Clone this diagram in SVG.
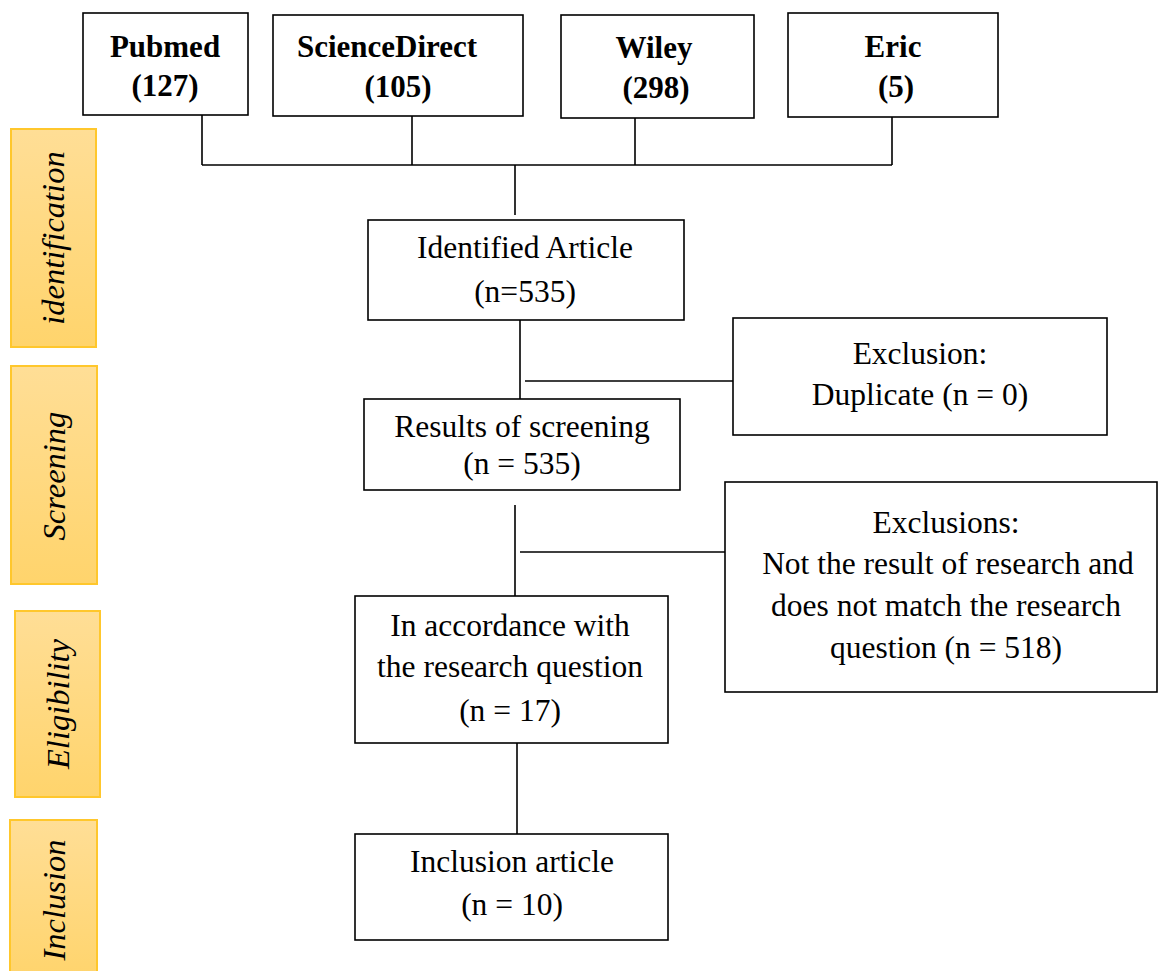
<svg xmlns="http://www.w3.org/2000/svg" width="1159" height="971" viewBox="0 0 1159 971">
<defs>
<linearGradient id="side" x1="0" y1="0" x2="0" y2="1">
<stop offset="0" stop-color="#FFDE96"/>
<stop offset="1" stop-color="#FFD46C"/>
</linearGradient>
<style>
.box{fill:#fff;stroke:#000;stroke-width:1.6}
.side{fill:url(#side);stroke:#FFC72C;stroke-width:2}
.t{font-family:"Liberation Serif","Times New Roman",serif;font-size:31.5px;fill:#000;text-anchor:middle}
.b{font-family:"Liberation Serif","Times New Roman",serif;font-size:31px;font-weight:bold;fill:#000;text-anchor:middle}
.s{font-family:"Liberation Serif","Times New Roman",serif;font-size:32.5px;font-style:italic;fill:#000;text-anchor:middle}
.c{fill:none;stroke:#000;stroke-width:1.6}
</style>
</defs>
<rect width="1159" height="971" fill="#fff"/>
<g id="side-identification"><rect class="side" x="11" y="129" width="85" height="218"/><text class="s" transform="translate(64,238) rotate(-90)">identification</text></g>
<g id="side-screening"><rect class="side" x="11" y="366" width="86" height="218"/><text class="s" transform="translate(65,476) rotate(-90)">Screening</text></g>
<g id="side-eligibility"><rect class="side" x="15" y="611" width="85" height="186"/><text class="s" transform="translate(69,704) rotate(-90)">Eligibility</text></g>
<g id="side-inclusion"><rect class="side" x="10" y="820" width="87" height="160"/><text class="s" transform="translate(65,900) rotate(-90)">Inclusion</text></g>
<g id="connectors">
<path class="c" d="M202 115V165M412 116V165M635 118V165M892 117V165M202 165H892M515 165V215"/>
<path class="c" d="M520 320V418M525 381H733"/>
<path class="c" d="M515 505V597M520 552H725"/>
<path class="c" d="M517 743V836"/>
</g>
<g id="pubmed"><rect class="box" x="83" y="13" width="165" height="102"/><text class="b" x="165" y="57">Pubmed</text><text class="b" x="165" y="96">(127)</text></g>
<g id="sciencedirect"><rect class="box" x="273" y="15" width="250" height="101"/><text class="b" x="387" y="57">ScienceDirect</text><text class="b" x="398" y="97">(105)</text></g>
<g id="wiley"><rect class="box" x="561" y="15" width="193" height="103"/><text class="b" x="654" y="58">Wiley</text><text class="b" x="656" y="98">(298)</text></g>
<g id="eric"><rect class="box" x="788" y="13" width="210" height="104"/><text class="b" x="893" y="57">Eric</text><text class="b" x="896" y="97">(5)</text></g>
<g id="identified"><rect class="box" x="368" y="220" width="316" height="100"/><text class="t" x="525" y="258">Identified Article</text><text class="t" x="525" y="302">(n=535)</text></g>
<g id="exclusion-duplicate"><rect class="box" x="733" y="318" width="374" height="117"/><text class="t" x="920" y="364">Exclusion:</text><text class="t" x="920" y="405">Duplicate (n = 0)</text></g>
<g id="screening"><rect class="box" x="364" y="399" width="316" height="91"/><text class="t" x="522" y="437">Results of screening</text><text class="t" x="522" y="474">(n = 535)</text></g>
<g id="exclusions"><rect class="box" x="725" y="482" width="432" height="210"/><text class="t" x="946" y="533">Exclusions:</text><text class="t" x="948" y="574">Not the result of research and</text><text class="t" x="946" y="616">does not match the research</text><text class="t" x="946" y="658">question (n = 518)</text></g>
<g id="eligibility"><rect class="box" x="355" y="596" width="313" height="147"/><text class="t" x="510" y="636">In accordance with</text><text class="t" x="510" y="677">the research question</text><text class="t" x="510" y="721">(n = 17)</text></g>
<g id="inclusion"><rect class="box" x="355" y="834" width="313" height="106"/><text class="t" x="512" y="872">Inclusion article</text><text class="t" x="512" y="915">(n = 10)</text></g>
</svg>
